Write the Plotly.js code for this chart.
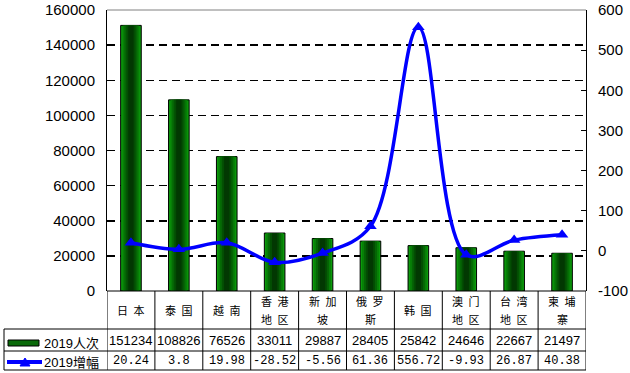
<!DOCTYPE html>
<html><head><meta charset="utf-8">
<script src="https://cdn.plot.ly/plotly-3.0.1.min.js"></script>
<style>body{margin:0;background:#fff}</style>
</head><body><div id="chart" style="width:630px;height:373px"></div>
<script>
const categories = ["日本","泰国","越南","香港地区","新加坡","俄罗斯","韩国","澳门地区","台湾地区","柬埔寨"];
const visitors2019 = [151234,108826,76526,33011,29887,28405,25842,24646,22667,21497];
const growth2019 = [20.24,3.8,19.98,-28.52,-5.56,61.36,556.72,-9.93,26.87,40.38];
const seriesNames = ["2019人次","2019增幅"];
const leftTicks = [0,20000,40000,60000,80000,100000,120000,140000,160000];
const rightTicks = [-100,0,100,200,300,400,500,600];

const L=107,R=586,T=10,B=291;
const pw=R-L, ph=B-T;
const px = x => (x-L)/pw;
const py = y => (B-y)/ph;

const layers = [
  {w:0.43, c:'#0b9a0b', line:1},
  {w:0.35, c:'#077f07'},
  {w:0.27, c:'#056505'},
  {w:0.19, c:'#034d03'},
  {w:0.11, c:'#023802'}
];
const traces = layers.map(l => ({
  type:'bar', x:categories, y:visitors2019, width:l.w,
  marker:{color:l.c, line:{color:'#000', width:l.line||0}},
  showlegend:false, hoverinfo:'skip', name:seriesNames[0]
}));
traces.push({
  type:'scatter', x:categories, y:growth2019, yaxis:'y2', name:seriesNames[1],
  mode:'lines+markers',
  line:{color:'#0000ff', width:3.5, shape:'spline', smoothing:1},
  marker:{symbol:'triangle-up', size:11, color:'#0000ff'},
  showlegend:false, hoverinfo:'skip', cliponaxis:false
});

const shapes = [];
const annotations = [];
const black = {color:'#000', width:1};
// top frame
shapes.push({type:'line', xref:'paper', yref:'paper', x0:0, x1:1, y0:1, y1:1, line:{color:'#808080', width:1}});
// table horizontal lines
shapes.push({type:'line', xref:'paper', yref:'paper', x0:0, x1:1, y0:0, y1:0, line:black});
[329,351,370].forEach(y => shapes.push({type:'line', xref:'paper', yref:'paper', x0:px(4), x1:1, y0:py(y), y1:py(y), line:black}));
// vertical lines
for (let i=0;i<=categories.length;i++){
  shapes.push({type:'line', xref:'x', yref:'paper', x0:i-0.5, x1:i-0.5, y0:0, y1:py(370), line:black});
}
shapes.push({type:'line', xref:'paper', yref:'paper', x0:px(4), x1:px(4), y0:py(329), y1:py(370), line:black});
// legend swatches
shapes.push({type:'rect', xref:'paper', yref:'paper', x0:px(8), x1:px(39), y0:py(346), y1:py(340), fillcolor:'#0a6a0a', line:{color:'#000', width:1}});
shapes.push({type:'line', xref:'paper', yref:'paper', x0:px(7), x1:px(42), y0:py(362), y1:py(362), line:{color:'#0000ff', width:4}});
shapes.push({type:'path', xref:'paper', yref:'paper',
  path:`M ${px(20)} ${py(366)} L ${px(30)} ${py(366)} L ${px(25)} ${py(358)} Z`,
  fillcolor:'#0000ff', line:{color:'#0000ff', width:1}});

const cjk = {family:'Noto Sans CJK SC', size:11, color:'#000'};
const sp = s => s.split('').join('\u2002');
categories.forEach((c,i) => {
  if (c.length <= 2) {
    annotations.push({xref:'x', yref:'paper', x:i, y:py(310), text:sp(c), showarrow:false, font:cjk, xanchor:'center', yanchor:'middle'});
  } else {
    annotations.push({xref:'x', yref:'paper', x:i, y:py(301), text:sp(c.slice(0,2)), showarrow:false, font:cjk, xanchor:'center', yanchor:'middle'});
    annotations.push({xref:'x', yref:'paper', x:i, y:py(319), text:sp(c.slice(2)), showarrow:false, font:cjk, xanchor:'center', yanchor:'middle'});
  }
  annotations.push({xref:'x', yref:'paper', x:i, y:py(340.5), text:String(visitors2019[i]), showarrow:false,
    font:{family:'Liberation Sans', size:13, color:'#000'}, xanchor:'center', yanchor:'middle'});
  annotations.push({xref:'x', yref:'paper', x:i, y:py(361), text:String(growth2019[i]), showarrow:false,
    font:{family:'Liberation Mono', size:12, color:'#000'}, xanchor:'center', yanchor:'middle'});
});
const legFont = {family:'Liberation Sans, Noto Sans CJK SC', size:13, color:'#000'};
annotations.push({xref:'paper', yref:'paper', x:px(42), y:py(343), text:seriesNames[0], showarrow:false, font:legFont, xanchor:'left', yanchor:'middle'});
annotations.push({xref:'paper', yref:'paper', x:px(42), y:py(362), text:seriesNames[1], showarrow:false, font:legFont, xanchor:'left', yanchor:'middle'});

const tickFont = {family:'Liberation Sans', size:15, color:'#000'};
const layout = {
  width:630, height:373,
  margin:{l:L, r:630-R, t:T, b:373-B, pad:0},
  paper_bgcolor:'#fff', plot_bgcolor:'#fff',
  barmode:'overlay', showlegend:false,
  xaxis:{range:[-0.5,9.5], showticklabels:false, showgrid:false, zeroline:false, showline:false, ticks:'', automargin:false},
  yaxis:{range:[0,160000], tickvals:leftTicks, ticktext:leftTicks.map(String), ticks:'inside', ticklen:5, tickcolor:'#000',
    showline:true, linecolor:'#000', linewidth:1, showgrid:true, gridcolor:'#000', gridwidth:1.5, griddash:'8px,5px',
    zeroline:false, tickfont:tickFont, ticklabelstandoff:8, automargin:false},
  yaxis2:{overlaying:'y', side:'right', range:[-100,600], tickvals:rightTicks, ticktext:rightTicks.map(String), ticks:'inside', ticklen:5, tickcolor:'#000',
    showline:true, linecolor:'#000', linewidth:1, showgrid:false, zeroline:false, tickfont:tickFont, ticklabelstandoff:8, automargin:false},
  shapes:shapes, annotations:annotations
};
Plotly.newPlot('chart', traces, layout, {staticPlot:true, displayModeBar:false});
</script></body></html>
